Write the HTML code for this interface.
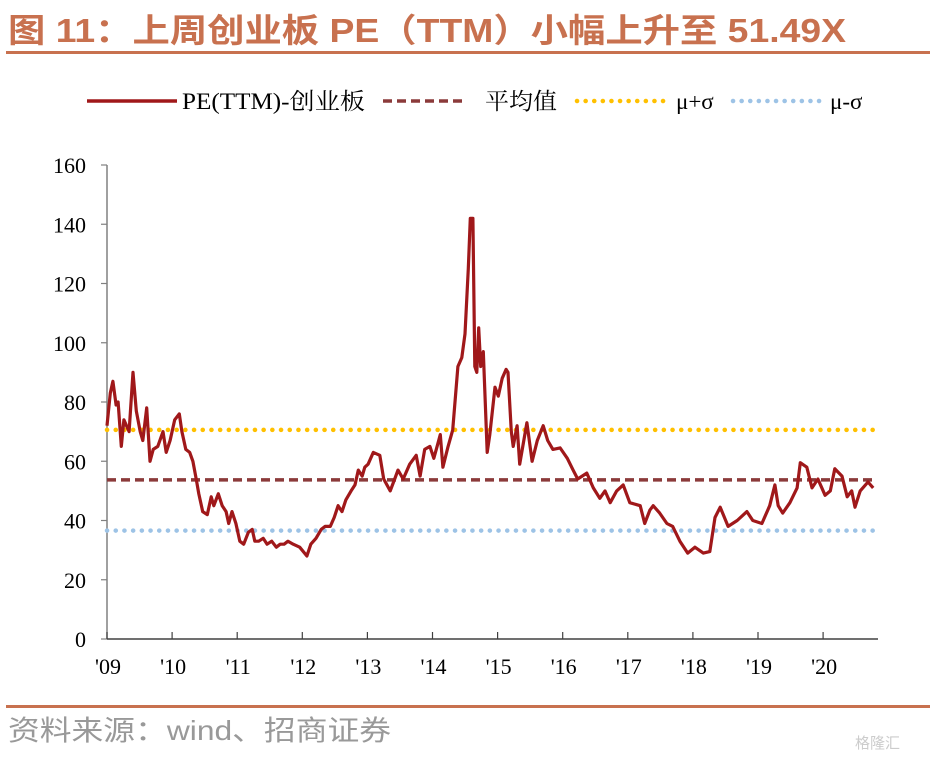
<!DOCTYPE html>
<html><head><meta charset="utf-8">
<style>
html,body{margin:0;padding:0;background:#fff;}
body{width:938px;height:762px;overflow:hidden;position:relative;font-family:"Liberation Serif","Noto Serif CJK SC",serif;}
</style></head>
<body>
<svg id="chart" width="938" height="762" xmlns="http://www.w3.org/2000/svg">
<text x="8" y="42" textLength="838" lengthAdjust="spacingAndGlyphs" font-family="Liberation Sans, Noto Sans CJK SC, sans-serif" font-weight="bold" font-size="33" fill="#c8714f">图 11：上周创业板 PE（TTM）小幅上升至 51.49X</text>
<rect x="6" y="51" width="924" height="3" fill="#c8714f"/>
<g font-size="23" fill="#000">
 <g><line x1="87" y1="101" x2="177" y2="101" stroke="#a0181a" stroke-width="3.5"/><text x="182" y="109" textLength="183" lengthAdjust="spacingAndGlyphs">PE(TTM)-创业板</text></g>
 <g><line x1="383" y1="101" x2="463" y2="101" stroke="#8b3a3a" stroke-width="3.5" stroke-dasharray="9,5"/><text x="485" y="109" textLength="72" lengthAdjust="spacingAndGlyphs">平均值</text></g>
 <g><line x1="577" y1="101" x2="664" y2="101" stroke="#ffc000" stroke-width="4.5" stroke-dasharray="0.1,8.5" stroke-linecap="round"/><text x="676" y="109">μ+σ</text></g>
 <g><line x1="733" y1="101" x2="820" y2="101" stroke="#9dc3e6" stroke-width="4.5" stroke-dasharray="0.1,8.5" stroke-linecap="round"/><text x="830" y="109">μ-σ</text></g>
</g>
<g id="axes"></g>
<g id="plot"></g>
<rect x="6" y="705" width="924" height="3" fill="#c8714f"/>
<text x="8" y="740" textLength="383" lengthAdjust="spacingAndGlyphs" font-family="Liberation Sans, Noto Sans CJK SC, sans-serif" font-size="28" fill="#999">资料来源：wind、招商证券</text>
<text x="855" y="748" font-family="Liberation Sans, Noto Sans CJK SC, sans-serif" font-size="15" fill="#ccc">格隆汇</text>
</svg>
<script>
const yTicks=[0,20,40,60,80,100,120,140,160];
const xTickYears=[2009,2010,2011,2012,2013,2014,2015,2016,2017,2018,2019,2020];
const xTickLabels=["'09","'10","'11","'12","'13","'14","'15","'16","'17","'18","'19","'20"];
const meanValue=53.7;
const plusSigma=70.6;
const minusSigma=36.6;
const dates=[2009.00,2009.05,2009.09,2009.14,2009.17,2009.22,2009.26,2009.34,2009.40,2009.45,2009.51,2009.55,2009.61,2009.66,2009.71,2009.78,2009.86,2009.91,2009.97,
2010.04,2010.11,2010.15,2010.21,2010.27,2010.32,2010.37,2010.41,2010.47,2010.54,2010.60,2010.64,2010.71,2010.77,2010.83,2010.87,2010.92,2010.98,
2011.04,2011.10,2011.17,2011.23,2011.27,2011.33,2011.40,2011.46,2011.53,2011.60,2011.66,2011.72,2011.78,2011.86,2011.96,
2012.07,2012.13,2012.21,2012.29,2012.35,2012.43,2012.49,2012.55,2012.61,2012.67,2012.75,2012.81,2012.86,2012.92,2012.96,
2013.01,2013.09,2013.19,2013.25,2013.35,2013.42,2013.47,2013.55,2013.65,2013.75,2013.81,2013.88,2013.96,
2014.02,2014.07,2014.12,2014.16,2014.24,2014.31,2014.39,2014.45,2014.50,2014.55,2014.58,2014.62,2014.65,2014.68,2014.71,2014.74,2014.78,2014.84,2014.88,2014.96,
2015.01,2015.07,2015.13,2015.16,2015.21,2015.24,2015.30,2015.34,2015.45,2015.53,2015.61,2015.70,2015.77,2015.85,2015.96,
2016.07,2016.16,2016.23,2016.37,2016.47,2016.57,2016.65,2016.73,2016.83,2016.93,
2017.03,2017.19,2017.26,2017.34,2017.39,2017.49,2017.60,2017.69,2017.80,2017.92,
2018.03,2018.16,2018.26,2018.34,2018.42,2018.54,2018.68,2018.83,2018.92,
2019.06,2019.18,2019.26,2019.31,2019.38,2019.49,2019.60,2019.65,2019.75,2019.83,2019.92,
2020.03,2020.11,2020.18,2020.29,2020.37,2020.44,2020.49,2020.57,2020.69,2020.77];
const peValues=[72,83,87,79,80,65,74,70,90,77,70,67,78,60,64,65,70,63,67,
74,76,70,64,63,60,54,49,43,42,48,45,49,45,43,39,43,39,
33,32,36,37,33,33,34,32,33,31,32,32,33,32,31,
28,32,34,37,38,38,41,45,43,47,50,52,57,55,58,
59,63,62,54,50,54,57,54,59,62,55,64,65,
61,65,69,58,65,70.5,92,95,103,125,142,142,92,90,105,92,97,63,69,85,
82,88,91,90,70,65,72,59,73,60,67,72,67,64,64.5,
61,57,54,56,51,47.5,50,46,50,52,
46,45,39,43.5,45,42.5,39,38,33,29,
31,29,29.5,41,44.5,38,40,43,40,
39,45,52,45,42.5,46,51,59.5,58,51,54,
48.5,50,57.5,55,48,50,44.5,50,53,51];

const L=107,R=875,T=165,B=639,Y0=2009,PXY=65.1;
const xs=d=>L+(d-Y0)*PXY;
const ys=v=>B-(v-0)/(160-0)*(B-T);
const NS='http://www.w3.org/2000/svg';
const axes=document.getElementById('axes'),plot=document.getElementById('plot');
function mk(tag,attrs,parent){const e=document.createElementNS(NS,tag);for(const k in attrs)e.setAttribute(k,attrs[k]);parent.appendChild(e);return e;}

const yAxis=mk('line',{x1:L,y1:T,x2:L,y2:B,stroke:'#808080','stroke-width':1.5},axes);


const xAxis=mk('line',{x1:L,y1:B,x2:878,y2:B,stroke:'#404040','stroke-width':1.5},axes);


yTicks.forEach(v=>{
 const t=mk('line',{x1:L-6,y1:ys(v),x2:L,y2:ys(v),stroke:'#808080','stroke-width':1.2},axes);
 
 
 const lb=mk('text',{x:L-21,y:ys(v)+8,'text-anchor':'end','font-size':22,fill:'#000'},axes);
 lb.textContent=v;
 
 
});
xTickYears.forEach((yr,i)=>{
 const x=xs(yr);
 const t=mk('line',{x1:x,y1:B-7,x2:x,y2:B,stroke:'#404040','stroke-width':1.2},axes);
 
 
 const lb=mk('text',{x:x+1,y:B+35,'text-anchor':'middle','font-size':22,fill:'#000'},axes);
 lb.textContent=xTickLabels[i];
 
 
});
const up=mk('line',{x1:L,y1:ys(plusSigma),x2:R,y2:ys(plusSigma),stroke:'#ffc000','stroke-width':4.5,'stroke-dasharray':'0.1,8.6','stroke-linecap':'round'},plot);


const lo=mk('line',{x1:L,y1:ys(minusSigma),x2:R,y2:ys(minusSigma),stroke:'#9dc3e6','stroke-width':4.5,'stroke-dasharray':'0.1,8.6','stroke-linecap':'round'},plot);


const mn=mk('line',{x1:L,y1:ys(meanValue),x2:R,y2:ys(meanValue),stroke:'#8b3a3a','stroke-width':3.5,'stroke-dasharray':'9,5'},plot);


const pts=dates.map((d,i)=>xs(d).toFixed(1)+','+ys(peValues[i]).toFixed(1)).join(' ');
const pl=mk('polyline',{points:pts,fill:'none',stroke:'#a0181a','stroke-width':3.2,'stroke-linejoin':'round'},plot);


</script>
</body></html>
